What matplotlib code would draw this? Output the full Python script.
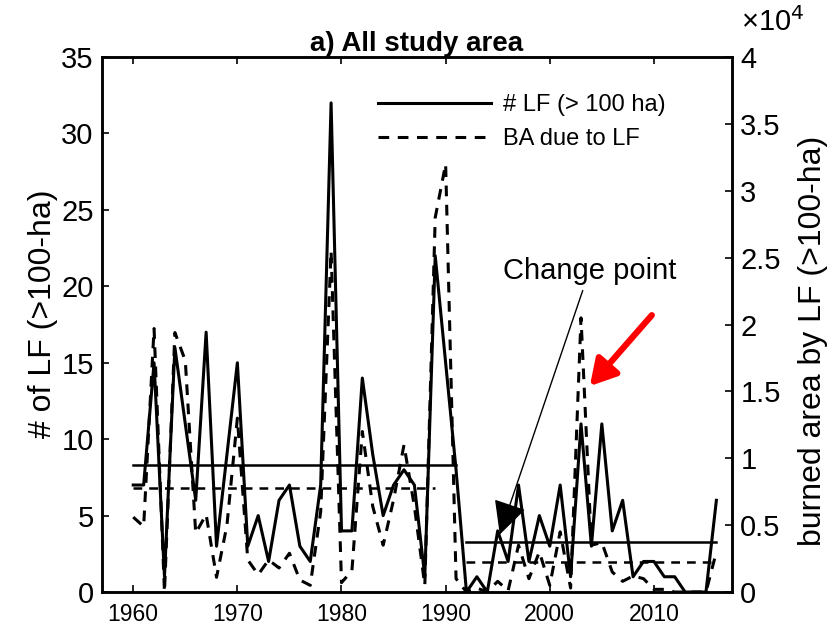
import numpy as np
import matplotlib.pyplot as plt
from matplotlib.ticker import FuncFormatter

plt.rcParams["font.family"] = ["Liberation Sans", "DejaVu Sans"]

years = list(range(1960, 2017))

# number of large fires (> 100 ha), left axis
n_lf = [7, 7, 15, 1, 16, 11, 6, 17, 3, 9,
        15, 3, 5, 2, 6, 7, 3, 2, 7, 32,
        4, 4, 14, 9, 5, 7, 8, 7, 1, 22,
        15, 8, 0, 1, 0, 4, 2, 7, 2, 5,
        3, 7, 1, 11, 3, 11, 4, 6, 1, 2,
        2, 1, 1, 0, 0, 0, 6]

# burned area due to large fires (ha), right axis
ba_lf = [5600, 4900, 19700, 0, 19400, 17300, 4400, 5800, 1100, 5000,
         13000, 2400, 1300, 2400, 1800, 2900, 900, 500, 6000, 25500,
         700, 1600, 12000, 6400, 3500, 6900, 11000, 6400, 500, 28000,
         32000, 1000, 0, 300, 0, 800, 100, 3500, 1000, 3000,
         500, 4500, 300, 20500, 3500, 3700, 1500, 800, 1200, 1000,
         200, 200, 0, 0, 0, 0, 3000]

# segment means before / after the change point
seg_years = [(1960, 1991), (1992, 2016)]
n_mean = [8.3, 3.3]
ba_seg_years = [(1960, 1989), (1992, 2016)]
ba_mean = [7800, 2250]

fig = plt.figure(figsize=(8.36, 6.41), dpi=100)
ax = fig.add_axes([0.122, 0.0764, 0.7536, 0.8346])
ax2 = ax.twinx()

lw = 2.2
dash = (3.5, 2.8)
l1, = ax.plot(years, n_lf, color="black", lw=lw, label="# LF (> 100 ha)")
for (a, b), m in zip(seg_years, n_mean):
    ax.plot([a, b], [m, m], color="black", lw=1.8)

l2, = ax2.plot(years, ba_lf, color="black", lw=lw, dashes=dash,
               label="BA due to LF")
for (a, b), m in zip(ba_seg_years, ba_mean):
    ax2.plot([a, b], [m, m], color="black", lw=1.8, dashes=dash)

ax.set_xlim(1957, 2017.5)
ax.set_ylim(0, 35)
ax2.set_ylim(0, 40000)
ax.set_xticks(range(1960, 2011, 10))
ax.set_yticks(range(0, 36, 5))
ax2.set_yticks(np.arange(0, 40001, 5000))
ax2.yaxis.set_major_formatter(FuncFormatter(lambda v, p: f"{v / 1e4:g}"))

ax.tick_params(axis="x", direction="in", top=True, length=5, width=1.2,
               labelsize=16.5, pad=8)
ax.tick_params(axis="y", direction="in", length=5, width=1.2,
               labelsize=21, pad=6)
ax2.tick_params(axis="y", direction="in", length=5, width=1.2,
                labelsize=21, pad=6)
for a in (ax, ax2):
    for s in a.spines.values():
        s.set_linewidth(1.8)

ax.set_ylabel("# of LF (>100-ha)", fontsize=23, labelpad=2)
ax2.set_ylabel("burned area by LF (>100-ha)", fontsize=23, labelpad=12)
ax.yaxis.label.set_y(0.52)
ax2.yaxis.label.set_y(0.47)
ax.set_title("a) All study area", fontsize=20, fontweight="bold", pad=3)
fig.text(0.886, 0.943, "\u00d710$^4$", fontsize=21, ha="left", va="bottom")

ax2.legend(handles=[l1, l2], loc="upper left", bbox_to_anchor=(0.438, 0.93),
           frameon=False, fontsize=17, handlelength=4.8, handletextpad=0.5,
           labelspacing=0.5, borderpad=0, borderaxespad=0)

ax2.annotate("Change point", xy=(1995.2, 4300), xytext=(2003.8, 24000),
             xycoords="data", fontsize=21, ha="center", va="center",
             arrowprops=dict(arrowstyle="-|>,head_length=0.7,head_width=0.35",
                             mutation_scale=30, lw=1, color="black",
                             shrinkA=2, shrinkB=0))
ax2.annotate("", xy=(2003.85, 15400), xytext=(2009.8, 20700),
             arrowprops=dict(arrowstyle="-|>,head_length=0.7,head_width=0.4",
                             mutation_scale=22, lw=4.5, color="red",
                             shrinkA=0, shrinkB=0))

fig.savefig("out.png", dpi=100)
